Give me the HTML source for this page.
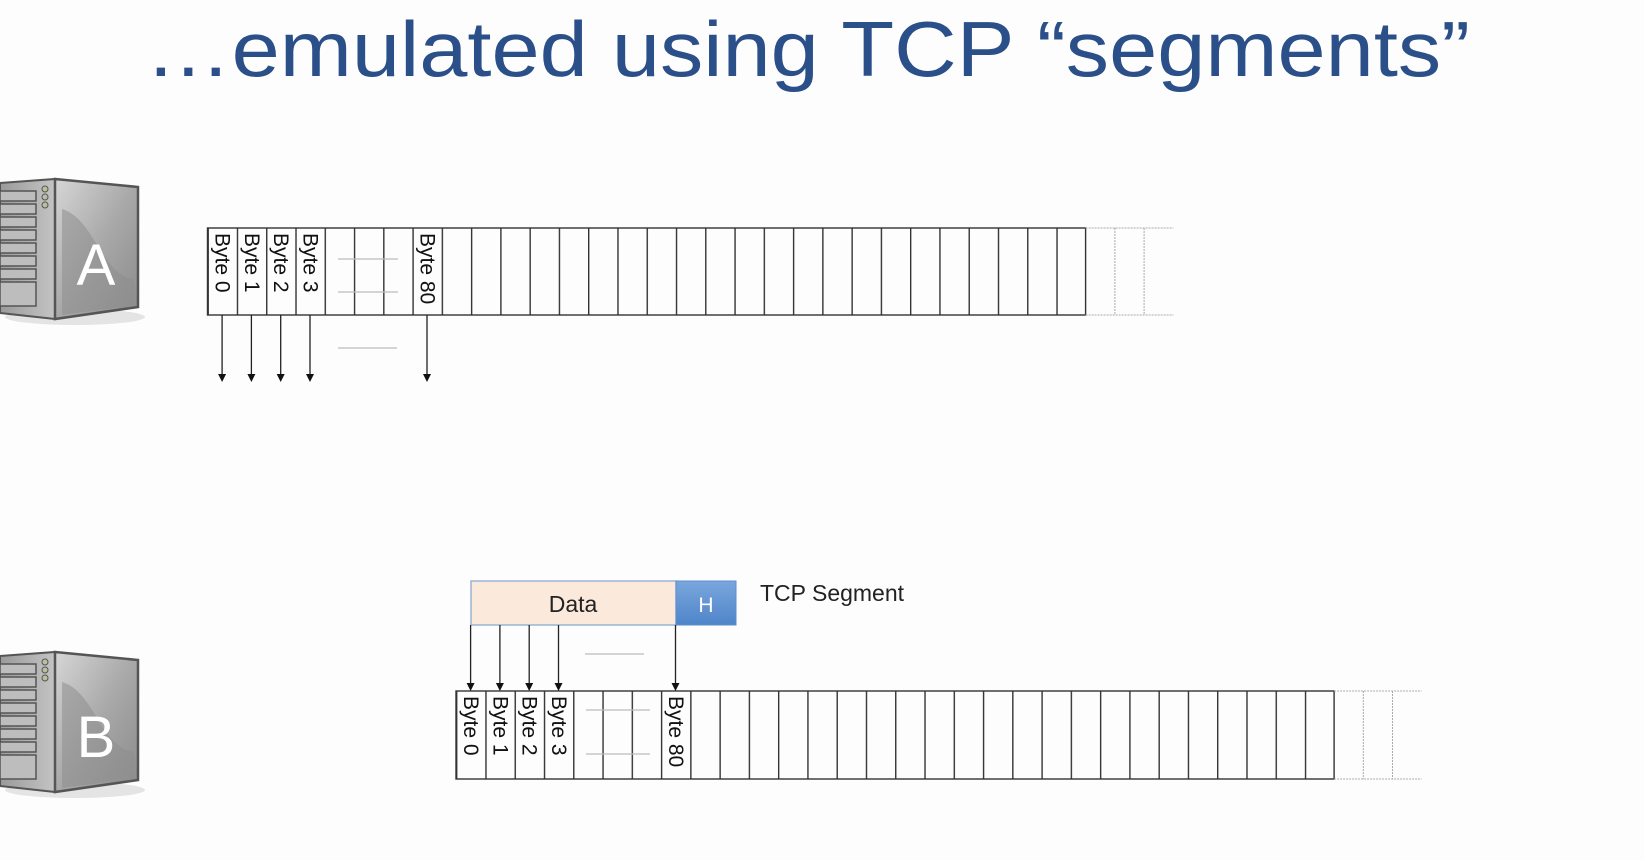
<!DOCTYPE html>
<html><head><meta charset="utf-8"><style>
html,body{margin:0;padding:0;background:#fdfdfd;}
svg{display:block;}
text{font-family:"Liberation Sans",sans-serif;}
</style></head><body>
<svg width="1644" height="860" viewBox="0 0 1644 860" xmlns="http://www.w3.org/2000/svg">
<defs>
<linearGradient id="side" x1="0" y1="0" x2="1" y2="1"><stop offset="0" stop-color="#d6d6d6"/><stop offset="0.5" stop-color="#a9a9a9"/><stop offset="1" stop-color="#8a8a8a"/></linearGradient>
<linearGradient id="front" x1="0" y1="0" x2="1" y2="0"><stop offset="0" stop-color="#9a9a9a"/><stop offset="1" stop-color="#c4c4c4"/></linearGradient>
<linearGradient id="hdr" x1="0" y1="0" x2="0" y2="1"><stop offset="0" stop-color="#7aa6dc"/><stop offset="1" stop-color="#4f85c9"/></linearGradient>
<pattern id="pA" patternUnits="userSpaceOnUse" x="207.5" y="0" width="29.27" height="860"><line x1="0.7" y1="0" x2="0.7" y2="860" stroke="#333" stroke-width="1.4"/></pattern>
<pattern id="pB" patternUnits="userSpaceOnUse" x="456" y="0" width="29.27" height="860"><line x1="0.7" y1="0" x2="0.7" y2="860" stroke="#333" stroke-width="1.4"/></pattern>
<g id="srv">
<ellipse cx="75" cy="138" rx="70" ry="8" fill="#e4e4e4"/>
<polygon points="0,4 55,0 55,140 0,134" fill="url(#front)" stroke="#555" stroke-width="2"/>
<g stroke="#555" stroke-width="1.5" fill="#bdbdbd">
<rect x="0" y="12" width="36" height="10"/><rect x="0" y="25" width="36" height="10"/><rect x="0" y="38" width="36" height="10"/><rect x="0" y="51" width="36" height="10"/><rect x="0" y="64" width="36" height="10"/><rect x="0" y="77" width="36" height="10"/><rect x="0" y="90" width="36" height="10"/><rect x="0" y="103" width="36" height="24"/>
</g>
<circle cx="45" cy="10" r="3" fill="#b8c0a0" stroke="#555"/><circle cx="45" cy="18" r="3" fill="#b8c0a0" stroke="#555"/><circle cx="45" cy="26" r="3" fill="#b8c0a0" stroke="#555"/>
<polygon points="55,0 138,8 138,128 55,140" fill="url(#side)" stroke="#555" stroke-width="2.5"/>
<path d="M62,30 C95,40 100,95 134,100 L134,126 L62,136 Z" fill="#8e8e8e" opacity="0.55"/>
</g>
</defs>

<text x="145" y="76" font-size="78" fill="#2b4f88" textLength="1325" lengthAdjust="spacingAndGlyphs">…emulated using TCP “segments”</text>

<use href="#srv" x="0" y="179"/>
<text x="96" y="285" font-size="58" fill="#fff" text-anchor="middle">A</text>
<use href="#srv" x="0" y="652"/>
<text x="96" y="757" font-size="58" fill="#fff" text-anchor="middle">B</text>

<!-- Buffer A -->
<rect x="207.5" y="228" width="878.1" height="87" fill="url(#pA)" stroke="#333" stroke-width="1.4"/>
<g stroke="#aaa" stroke-width="1" stroke-dasharray="2,1">
<line x1="1085.6" y1="228" x2="1173.4" y2="228"/><line x1="1085.6" y1="315" x2="1173.4" y2="315"/>
<line x1="1114.9" y1="228" x2="1114.9" y2="315"/><line x1="1144.1" y1="228" x2="1144.1" y2="315"/>
</g>
<g font-size="21" fill="#111" dominant-baseline="central">
<text transform="translate(222.1,233) rotate(90)">Byte 0</text>
<text transform="translate(251.4,233) rotate(90)">Byte 1</text>
<text transform="translate(280.7,233) rotate(90)">Byte 2</text>
<text transform="translate(310,233) rotate(90)">Byte 3</text>
<text transform="translate(427,233) rotate(90)">Byte 80</text>
</g>
<g stroke="#bbb" stroke-width="1.2">
<line x1="338" y1="259" x2="398" y2="259"/><line x1="338" y1="292" x2="398" y2="292"/>
<line x1="338" y1="348" x2="397" y2="348"/>
</g>
<g stroke="#222" stroke-width="1.3">
<line x1="222.1" y1="315" x2="222.1" y2="375"/><line x1="251.4" y1="315" x2="251.4" y2="375"/>
<line x1="280.7" y1="315" x2="280.7" y2="375"/><line x1="310" y1="315" x2="310" y2="375"/>
<line x1="427" y1="315" x2="427" y2="375"/>
</g>
<g fill="#111">
<polygon points="218.1,374 226.1,374 222.1,382"/><polygon points="247.4,374 255.4,374 251.4,382"/>
<polygon points="276.7,374 284.7,374 280.7,382"/><polygon points="306,374 314,374 310,382"/>
<polygon points="423,374 431,374 427,382"/>
</g>

<!-- Segment -->
<rect x="471" y="581" width="205" height="44" fill="#fbe9dc" stroke="#9ab3d6" stroke-width="1.5"/>
<rect x="676" y="581" width="60" height="44" fill="url(#hdr)" stroke="#5d8fcf" stroke-width="1"/>
<text x="573" y="612" font-size="23" fill="#222" text-anchor="middle">Data</text>
<text x="706" y="612" font-size="21" fill="#fff" text-anchor="middle">H</text>
<text x="760" y="601" font-size="23" fill="#222">TCP Segment</text>

<!-- Buffer B -->
<rect x="456" y="691" width="878.1" height="88" fill="url(#pB)" stroke="#333" stroke-width="1.4"/>
<g stroke="#aaa" stroke-width="1" stroke-dasharray="2,1">
<line x1="1334.1" y1="691" x2="1421.8" y2="691"/><line x1="1334.1" y1="779" x2="1421.8" y2="779"/>
<line x1="1363.3" y1="691" x2="1363.3" y2="779"/><line x1="1392.5" y1="691" x2="1392.5" y2="779"/>
</g>
<g font-size="21" fill="#111" dominant-baseline="central">
<text transform="translate(470.6,696) rotate(90)">Byte 0</text>
<text transform="translate(499.9,696) rotate(90)">Byte 1</text>
<text transform="translate(529.2,696) rotate(90)">Byte 2</text>
<text transform="translate(558.5,696) rotate(90)">Byte 3</text>
<text transform="translate(675.5,696) rotate(90)">Byte 80</text>
</g>
<g stroke="#bbb" stroke-width="1.2">
<line x1="586" y1="710" x2="650" y2="710"/><line x1="586" y1="754" x2="650" y2="754"/>
<line x1="585" y1="654" x2="644" y2="654"/>
</g>
<g stroke="#222" stroke-width="1.3">
<line x1="470.6" y1="625" x2="470.6" y2="684"/><line x1="499.9" y1="625" x2="499.9" y2="684"/>
<line x1="529.2" y1="625" x2="529.2" y2="684"/><line x1="558.5" y1="625" x2="558.5" y2="684"/>
<line x1="675.5" y1="625" x2="675.5" y2="684"/>
</g>
<g fill="#111">
<polygon points="466.6,683 474.6,683 470.6,691"/><polygon points="495.9,683 503.9,683 499.9,691"/>
<polygon points="525.2,683 533.2,683 529.2,691"/><polygon points="554.5,683 562.5,683 558.5,691"/>
<polygon points="671.5,683 679.5,683 675.5,691"/>
</g>
</svg>
</body></html>
